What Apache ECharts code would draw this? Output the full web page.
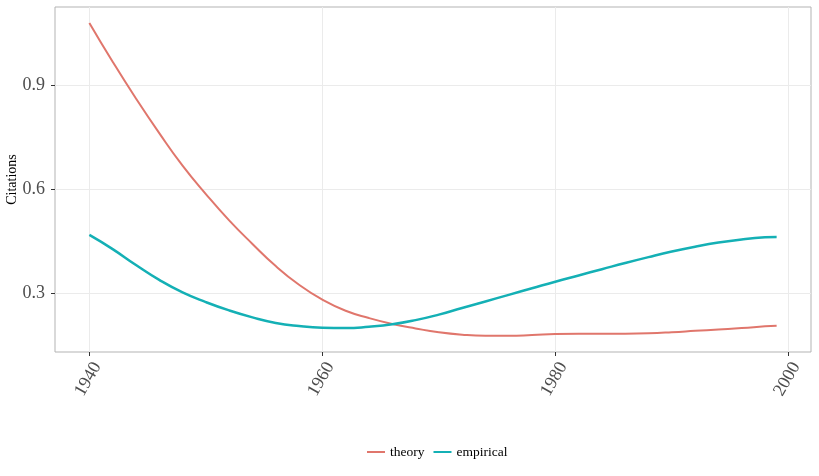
<!DOCTYPE html>
<html>
<head>
<meta charset="utf-8">
<script src="https://cdn.jsdelivr.net/npm/echarts@6/dist/echarts.min.js"></script>
<style>
  html, body { margin: 0; padding: 0; background: #fff; }
  #chart { width: 819px; height: 476px; }
</style>
</head>
<body>
<div id="chart"></div>
<script>
// values
const years = [1940, 1942, 1944, 1946, 1948, 1950, 1952, 1954, 1956, 1958,
  1960, 1962, 1964, 1966, 1968, 1970, 1972, 1974, 1976, 1978,
  1980, 1982, 1984, 1986, 1988, 1990, 1992, 1994, 1996, 1998, 1999];
const theory = [1.080, 0.968, 0.862, 0.762, 0.668, 0.586, 0.510, 0.442, 0.378, 0.324,
  0.281, 0.249, 0.228, 0.211, 0.198, 0.187, 0.180, 0.177, 0.177, 0.179,
  0.182, 0.183, 0.183, 0.183, 0.184, 0.187, 0.191, 0.195, 0.199, 0.204, 0.206];
const empirical = [0.468, 0.427, 0.381, 0.338, 0.302, 0.274, 0.250, 0.230, 0.214, 0.205,
  0.200, 0.199, 0.203, 0.210, 0.222, 0.238, 0.257, 0.276, 0.295, 0.314,
  0.333, 0.351, 0.369, 0.387, 0.404, 0.420, 0.434, 0.446, 0.455, 0.461, 0.462];
const xTicks = [1940, 1960, 1980, 2000];
const yTicks = [0.3, 0.6, 0.9];

const serif = '"Liberation Serif", "Times New Roman", serif';
const pair = (arr) => years.map((y, i) => [y, arr[i]]);

let myChart = echarts.init(document.getElementById('chart'));

option = {
  animation: false,
  backgroundColor: '#ffffff',
  grid: {
    left: 55,
    right: 8,
    top: 7,
    bottom: 124,
    outerBoundsMode: 'none',
    show: true,
    borderColor: '#b3b3b3',
    borderWidth: 1
  },
  legend: {
    bottom: 12,
    left: 362,
    itemWidth: 18,
    itemHeight: 2,
    itemGap: 9,
    icon: 'rect',
    textStyle: { fontFamily: serif, fontSize: 13.5, color: '#000' },
    data: ['theory', 'empirical']
  },
  xAxis: {
    type: 'value',
    min: 1937.05,
    max: 2001.95,
    axisLine: { show: false },
    axisTick: {
      show: true,
      length: 4,
      customValues: xTicks,
      lineStyle: { color: '#333' }
    },
    axisLabel: {
      customValues: xTicks,
      rotate: 60,
      margin: 7,
      align: 'right',
      verticalAlign: 'top',
      fontFamily: serif,
      fontSize: 18,
      color: '#4d4d4d',
      formatter: (v) => String(v)
    },
    splitLine: { show: true, lineStyle: { color: '#ebebeb', width: 1 } }
  },
  yAxis: {
    type: 'value',
    min: 0.13,
    max: 1.126,
    name: 'Citations',
    nameLocation: 'middle',
    nameGap: 36,
    nameMoveOverlap: false,
    nameTextStyle: { fontFamily: serif, fontSize: 14, color: '#000' },
    axisLine: { show: false },
    axisTick: {
      show: true,
      length: 4,
      customValues: yTicks,
      lineStyle: { color: '#333' }
    },
    axisLabel: {
      customValues: yTicks,
      margin: 10,
      fontFamily: serif,
      fontSize: 18,
      color: '#4d4d4d',
      formatter: (v) => v.toFixed(1)
    },
    splitLine: { show: true, lineStyle: { color: '#ebebeb', width: 1 } }
  },
  series: [
    {
      name: 'theory',
      type: 'line',
      data: pair(theory),
      smooth: true,
      showSymbol: false,
      lineStyle: { color: '#E0766C', width: 2 },
      itemStyle: { color: '#E0766C' }
    },
    {
      name: 'empirical',
      type: 'line',
      data: pair(empirical),
      smooth: true,
      showSymbol: false,
      lineStyle: { color: '#14B0B5', width: 2.5 },
      itemStyle: { color: '#14B0B5' }
    }
  ]
};

myChart.setOption(option);
</script>
</body>
</html>
